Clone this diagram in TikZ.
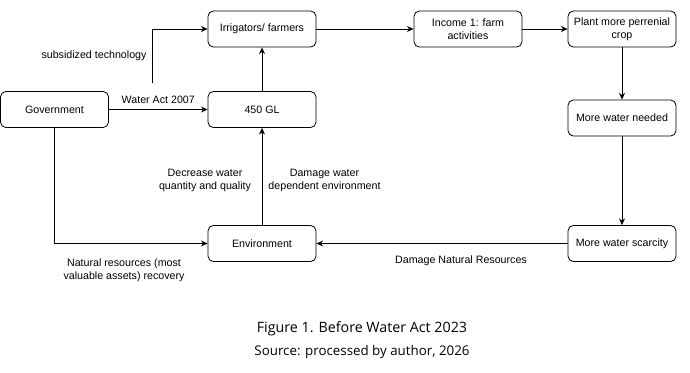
\documentclass[tikz,border=0pt]{standalone}
\usepackage{fontspec}
\setmainfont{Liberation Sans}
\newfontfamily\captionfont{Open Sans}
\usetikzlibrary{arrows.meta, positioning}

\begin{document}
\begin{tikzpicture}[x=0.75pt, y=-0.75pt,
    stage/.style={draw, rounded corners=4pt, minimum width=81pt, minimum height=27pt,
                  align=center, inner sep=2pt, line width=0.6pt,
                  font=\fontsize{8}{9.5}\selectfont},
    note/.style={align=center, font=\fontsize{8}{10}\selectfont},
    arr/.style={-{Stealth[length=5pt, width=4.5pt]}, line width=0.6pt}
  ]
    \useasboundingbox (0,0) rectangle (690,372);

    % boxes
    \node[stage] (gov) at (54.5,109.5) {Government};
    \node[stage] (irr) at (262,29) {Irrigators/ farmers};
    \node[stage] (gl) at (262,109.5) {450 GL};
    \node[stage] (env) at (262,243.5) {Environment};
    \node[stage] (inc) at (468,29) {Income 1: farm\\activities};
    \node[stage] (plant) at (622,29) {Plant more perrenial\\crop};
    \node[stage] (need) at (622,118) {More water needed};
    \node[stage] (scar) at (622,243.5) {More water scarcity};
    \coordinate (subs) at (152,83);

    % connectors
    \draw[arr] (gov) -- node[note, above, yshift=1pt] {Water Act 2007} (gl);
    \draw[arr] (subs) |- (irr);
    \draw[arr] (gl) -- (irr);
    \draw[arr] (env) -- (gl);
    \draw[arr] (gov.south) |- (env);
    \draw[arr] (irr) -- (inc);
    \draw[arr] (inc) -- (plant);
    \draw[arr] (plant) -- (need);
    \draw[arr] (need) -- (scar);
    \draw[arr] (scar) -- (env);

    % labels
    \node[note] (subslbl) at (94,55.5) {subsidized technology};
    \node[note] (declbl) at (205,180.5) {Decrease water\\quantity and quality};
    \node[note] (dmglbl) at (324.5,180.5) {Damage water\\dependent environment};
    \node[note] (natlbl) at (124,270) {Natural resources (most\\valuable assets) recovery};
    \node[note] (dnrlbl) at (461,261) {Damage Natural Resources};

    % caption
    \node[font=\captionfont\fontsize{10.7}{12}\selectfont] (fig) at (362,329) {Figure 1. Before Water Act 2023};
    \node[font=\captionfont\fontsize{10}{11}\selectfont] (src) at (362,352) {Source: processed by author, 2026};
\end{tikzpicture}
\end{document}
